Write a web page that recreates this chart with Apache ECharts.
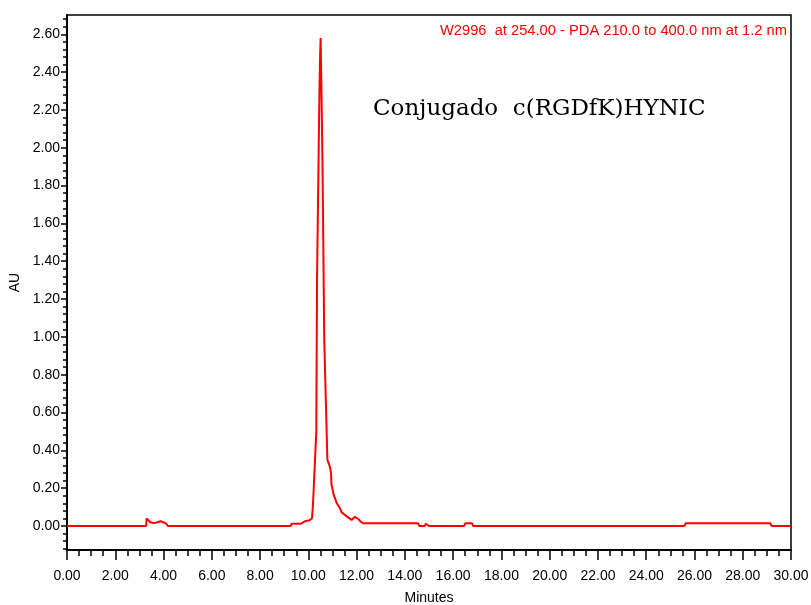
<!DOCTYPE html>
<html>
<head>
<meta charset="utf-8">
<script src="https://cdn.jsdelivr.net/npm/echarts@6/dist/echarts.min.js"></script>
<style>
html,body{margin:0;padding:0;background:#fff;}
#chart{width:811px;height:605px;}
</style>
</head>
<body>
<div id="chart"></div>
<script>
var tiempos = [0, 3.28, 3.30, 3.35, 3.45, 3.60, 3.75, 3.88, 3.98, 4.05, 4.10, 4.18, 7.00,
    9.27, 9.30, 9.70, 9.75, 9.86, 10.05, 10.15, 10.18, 10.21, 10.29, 10.33, 10.36,
    10.39, 10.42, 10.46, 10.49, 10.51, 10.53, 10.55, 10.59, 10.66, 10.79, 10.85,
    10.90, 10.94, 10.96, 11.04, 11.18, 11.31, 11.38, 11.52, 11.66, 11.80, 11.93,
    12.07, 12.17, 12.28, 14.55, 14.60, 14.82, 14.87, 14.95, 15.00, 16.45, 16.50,
    16.78, 16.83, 25.58, 25.63, 29.15, 29.20, 30];
var absorbancia = [0, 0, 0.04, 0.03, 0.02, 0.015, 0.02, 0.025, 0.02, 0.013, 0.013, 0, 0,
    0, 0.012, 0.012, 0.015, 0.025, 0.03, 0.04, 0.09, 0.16, 0.16, 0.5, 1.3,
    1.6, 1.9, 2.3, 2.5, 2.58, 2.58, 2.25, 1.88, 0.98, 0.35, 0.33,
    0.31, 0.28, 0.22, 0.17, 0.12, 0.094, 0.072, 0.058, 0.044, 0.032, 0.049,
    0.037, 0.023, 0.014, 0.014, 0, 0, 0.012, 0.012, 0, 0, 0.014,
    0.014, 0, 0, 0.014, 0.014, 0, 0];
var yEtiquetas = [0, 0.2, 0.4, 0.6, 0.8, 1.0, 1.2, 1.4, 1.6, 1.8, 2.0, 2.2, 2.4, 2.6];
var textoDetector = 'W2996  at 254.00 - PDA 210.0 to 400.0 nm at 1.2 nm';
var textoMuestra = 'Conjugado  c(RGDfK)HYNIC';

var yMin = -0.127, yMax = 2.702;
var yMenores = [];
for (var k = -3; k <= 67; k++) yMenores.push(+(k * 0.04).toFixed(2));

var datos = [];
for (var i = 0; i < tiempos.length; i++) datos.push([tiempos[i], absorbancia[i]]);

var fuente = "'Liberation Sans',Arial,sans-serif";

var myChart = echarts.init(document.getElementById('chart'), null, {renderer: 'canvas'});
myChart.setOption({
    animation: false,
    backgroundColor: '#fff',
    grid: {left: 67, right: 20, top: 15, bottom: 55, outerBoundsMode: 'none', containLabel: false,
        show: true, borderColor: '#000', borderWidth: 1.5, backgroundColor: 'transparent'},
    xAxis: {
        type: 'value', min: 0, max: 30, interval: 2,
        name: 'Minutes', nameLocation: 'middle', nameGap: 41,
        nameTextStyle: {fontFamily: fuente, fontSize: 14, color: '#000'},
        axisLine: {onZero: false, lineStyle: {color: '#000', width: 2}},
        axisTick: {length: 10, lineStyle: {color: '#000', width: 1.5}},
        minorTick: {show: true, splitNumber: 4, length: 6, lineStyle: {color: '#000', width: 1.5}},
        axisLabel: {margin: 19, fontFamily: fuente, fontSize: 14, color: '#000',
            formatter: function (v) { return v.toFixed(2); }},
        splitLine: {show: false}
    },
    yAxis: [{
        type: 'value', min: yMin, max: yMax,
        name: 'AU', nameLocation: 'middle', nameGap: 45, nameRotate: 90,
        nameTextStyle: {fontFamily: fuente, fontSize: 14, color: '#000'},
        axisLine: {show: true, onZero: false, lineStyle: {color: '#000', width: 2}},
        axisTick: {show: true, length: 6, customValues: yEtiquetas, lineStyle: {color: '#000', width: 1.5}},
        axisLabel: {margin: 7, fontFamily: fuente, fontSize: 14, color: '#000', customValues: yEtiquetas,
            formatter: function (v) { return v.toFixed(2); }},
        splitLine: {show: false}
    }, {
        type: 'value', min: yMin, max: yMax, position: 'left',
        axisLine: {show: false, onZero: false},
        axisTick: {show: true, length: 4, customValues: yMenores, lineStyle: {color: '#000', width: 1.5}},
        axisLabel: {show: false},
        splitLine: {show: false}
    }],
    graphic: [{
        type: 'text', right: 24, top: 23,
        style: {text: textoDetector, fill: '#ff0000', font: '14.7px ' + fuente}
    }, {
        type: 'text', left: 373, top: 98,
        style: {text: textoMuestra, fill: '#000', font: "23px 'DejaVu Serif',serif"}
    }],
    series: [{
        type: 'line', data: datos, yAxisIndex: 0,
        symbol: 'none', smooth: false,
        lineStyle: {color: '#ff0000', width: 2}
    }]
});
</script>
</body>
</html>
